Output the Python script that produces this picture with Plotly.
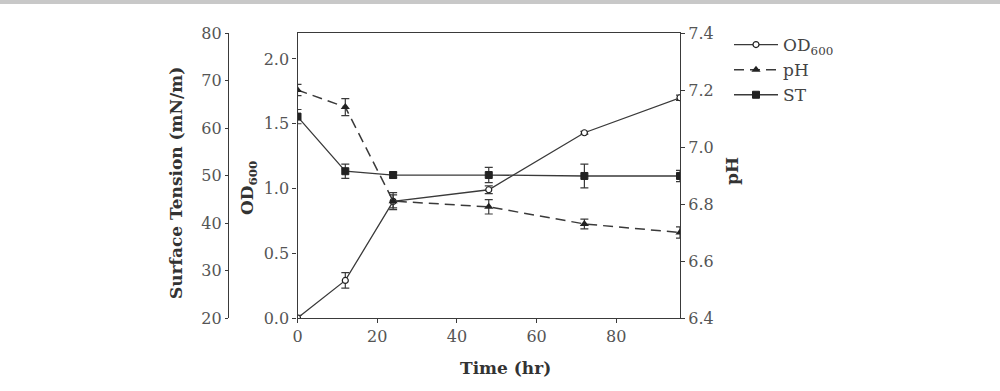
import plotly.graph_objects as go

time_hr = [0, 12, 24, 48, 72, 96]
od600 = [0.0, 0.29, 0.90, 0.99, 1.43, 1.70]
od600_err = [0.02, 0.06, 0.05, 0.03, 0.01, 0.02]
ph = [7.20, 7.14, 6.81, 6.79, 6.73, 6.70]
ph_err = [0.02, 0.03, 0.03, 0.025, 0.017, 0.02]
st = [62.4, 50.9, 50.1, 50.1, 49.9, 49.9]
st_err = [1.5, 1.5, 0.6, 1.6, 2.5, 1.2]

x_ticks = [0, 20, 40, 60, 80]
od_ticks = [0.0, 0.5, 1.0, 1.5, 2.0]
ph_ticks = [6.4, 6.6, 6.8, 7.0, 7.2, 7.4]
st_ticks = [20, 30, 40, 50, 60, 70, 80]

W, H = 1000, 391
FONT = "DejaVu Serif"
LINE = "#3a3a3a"
TICKC = "#555555"

def px(x):
    return x / W

def py(y):
    return 1 - y / H

x0, x1 = 297.5, 680.0
y_top, y_bot = 33.0, 318.0

fig = go.Figure()

fig.add_trace(go.Scatter(
    x=time_hr, y=st, name="ST", yaxis="y3", legendrank=3, legendgroup="c",
    mode="lines+markers",
    line=dict(color=LINE, width=1.3),
    marker=dict(symbol="square", size=7, color="#222222", line=dict(color="#222222", width=1)),
    error_y=dict(type="data", array=st_err, color=LINE, thickness=1.2, width=4),
))
fig.add_trace(go.Scatter(
    x=time_hr, y=ph, name="pH", yaxis="y2", legendrank=2, legendgroup="b",
    mode="lines+markers",
    line=dict(color=LINE, width=1.5, dash="10px,6px"),
    marker=dict(symbol="triangle-up", size=8, color="#222222"),
    error_y=dict(type="data", array=ph_err, color=LINE, thickness=1.2, width=4),
))
fig.add_trace(go.Scatter(
    x=time_hr, y=od600, name="OD<sub>600</sub>", yaxis="y", legendrank=1, legendgroup="a",
    mode="lines+markers",
    line=dict(color=LINE, width=1.3),
    marker=dict(symbol="circle", size=6, color="white", line=dict(color="#222222", width=1.2)),
    error_y=dict(type="data", array=od600_err, color=LINE, thickness=1.2, width=4),
))

tickfont = dict(family=FONT, size=16, color=TICKC)

fig.update_layout(
    width=W, height=H,
    margin=dict(l=0, r=0, t=0, b=0, pad=0, autoexpand=False),
    paper_bgcolor="white", plot_bgcolor="white",
    showlegend=True,
    legend=dict(x=px(729), y=py(27), xanchor="left", yanchor="top",
                font=dict(family=FONT, size=17, color="#444444"),
                bgcolor="rgba(0,0,0,0)", tracegroupgap=4, traceorder="normal",
                itemwidth=44),
    xaxis=dict(domain=[px(x0), px(x1)], range=[0, 96], tickvals=x_ticks,
               showgrid=False, zeroline=False, showline=True, linecolor=LINE, linewidth=1.3,
               mirror=True, ticks="outside", ticklen=4, tickcolor=LINE, tickfont=tickfont,
               anchor="y", automargin=False),
    yaxis=dict(domain=[py(y_bot), py(y_top)], range=[0, 2.2], tickvals=od_ticks,
               tickformat=".1f", showgrid=False, zeroline=False, showline=True,
               linecolor=LINE, linewidth=1.3, ticks="outside", ticklen=4, tickcolor=LINE,
               tickfont=tickfont, anchor="x", automargin=False),
    yaxis2=dict(overlaying="y", side="right", range=[6.4, 7.4], tickvals=ph_ticks,
                tickformat=".1f", showgrid=False, zeroline=False, showline=True,
                linecolor=LINE, linewidth=1.3, ticks="outside", ticklen=4, tickcolor=LINE,
                tickfont=tickfont, anchor="x", automargin=False),
    yaxis3=dict(overlaying="y", side="left", anchor="free", position=px(228),
                range=[20, 80], tickvals=st_ticks, showgrid=False, zeroline=False,
                showline=True, linecolor=LINE, linewidth=1.3, ticks="outside", ticklen=3,
                tickcolor=LINE, tickfont=tickfont, automargin=False),
)

title_font = dict(family=FONT, size=17, color="#333333")
fig.add_annotation(x=px(176), y=py(183), xref="paper", yref="paper",
                   text="<b>Surface Tension (mN/m)</b>", textangle=-90, showarrow=False,
                   font=title_font, xanchor="center", yanchor="middle")
fig.add_annotation(x=px(248), y=py(188), xref="paper", yref="paper",
                   text="<b>OD<sub>600</sub></b>", textangle=-90, showarrow=False,
                   font=title_font, xanchor="center", yanchor="middle")
fig.add_annotation(x=px(732), y=py(171), xref="paper", yref="paper",
                   text="<b>pH</b>", textangle=-90, showarrow=False,
                   font=title_font, xanchor="center", yanchor="middle")
fig.add_annotation(x=px(505), y=py(368), xref="paper", yref="paper",
                   text="<b>Time (hr)</b>", showarrow=False,
                   font=title_font, xanchor="center", yanchor="middle")

fig.add_shape(type="rect", xref="paper", yref="paper", x0=0, x1=1, y0=py(4), y1=1,
              fillcolor="#c8c8c8", line=dict(width=0), layer="above")

fig.write_html("out.html", config={"displayModeBar": False},
               post_script="document.body.style.margin='0px';")
